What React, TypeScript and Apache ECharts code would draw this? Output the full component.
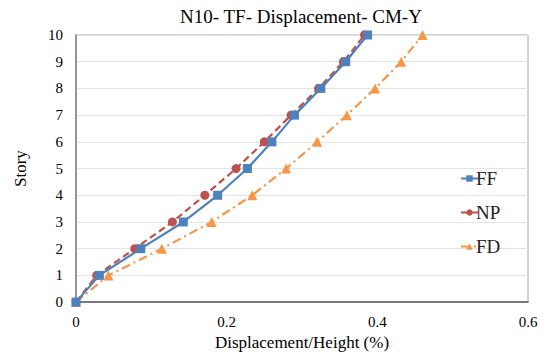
import React, { useEffect, useRef } from "react";
import * as echarts from "echarts";

// Story levels and drift ratios (%) per analysis case
const stories = [0, 1, 2, 3, 4, 5, 6, 7, 8, 9, 10];
const ffValues = [0, 0.031, 0.086, 0.1425, 0.188, 0.2275, 0.26, 0.29, 0.325, 0.358, 0.387];
const npValues = [0, 0.0275, 0.078, 0.128, 0.171, 0.2125, 0.25, 0.2855, 0.322, 0.355, 0.383];
const fdValues = [0, 0.043, 0.114, 0.18, 0.234, 0.279, 0.32, 0.3595, 0.397, 0.4316, 0.46];

const FONT = "'Liberation Serif', serif";

const pairs = (xs: number[]) => xs.map((x, i) => [x, stories[i]]);

export default function App() {
  const ref = useRef<HTMLDivElement>(null);

  useEffect(() => {
    if (!ref.current) return;
    const chart = echarts.init(ref.current, null, { renderer: "svg" });
    chart.setOption({
      animation: false,
      backgroundColor: "#ffffff",
      textStyle: { fontFamily: FONT },
      title: {
        text: "N10- TF- Displacement- CM-Y",
        left: 296,
        textAlign: "center",
        top: 2,
        textStyle: { fontFamily: FONT, fontSize: 19, fontWeight: "normal", color: "#000" },
      },
      grid: {
        left: 76,
        right: 17,
        top: 35,
        bottom: 52,
        show: true,
        borderColor: "#a6a6a6",
        borderWidth: 1,
      },
      legend: {
        orient: "vertical",
        left: 455,
        top: 164,
        itemWidth: 17,
        itemHeight: 8,
        itemGap: 15,
        textStyle: { fontFamily: FONT, fontSize: 19, color: "#222", padding: [0, 0, 0, -7] },
        data: ["FF", "NP", "FD"],
      },
      xAxis: {
        type: "value",
        min: 0,
        max: 0.6,
        interval: 0.2,
        name: "Displacement/Height (%)",
        nameLocation: "middle",
        nameGap: 27,
        nameTextStyle: { fontFamily: FONT, fontSize: 17, color: "#000" },
        axisLine: { lineStyle: { color: "#595959", width: 1.5 } },
        axisTick: { show: false },
        splitLine: { show: false },
        axisLabel: { fontFamily: FONT, fontSize: 15, color: "#000", margin: 12 },
      },
      yAxis: {
        type: "value",
        min: 0,
        max: 10,
        interval: 1,
        name: "Story",
        nameLocation: "middle",
        nameGap: 47,
        nameRotate: 90,
        nameTextStyle: { fontFamily: FONT, fontSize: 17, color: "#000" },
        axisLine: { show: true, lineStyle: { color: "#808080", width: 1.5 } },
        axisTick: { show: false },
        splitLine: { lineStyle: { color: "#e3e3e3", width: 1 } },
        axisLabel: { fontFamily: FONT, fontSize: 15, color: "#000", margin: 13 },
      },
      series: [
        {
          name: "FF",
          type: "line",
          data: pairs(ffValues),
          symbol: "rect",
          symbolSize: 9,
          itemStyle: { color: "#4f81bd" },
          lineStyle: { color: "#4f81bd", width: 2.2 },
          z: 3,
        },
        {
          name: "NP",
          type: "line",
          data: pairs(npValues),
          symbol: "circle",
          symbolSize: 9,
          itemStyle: { color: "#c0504d" },
          lineStyle: { color: "#c0504d", width: 2.2, type: [7, 4] },
          z: 2,
        },
        {
          name: "FD",
          type: "line",
          data: pairs(fdValues),
          symbol: "triangle",
          symbolSize: 10,
          itemStyle: { color: "#f79646" },
          lineStyle: { color: "#f79646", width: 2.2, type: [9, 4, 2, 4] },
          z: 1,
        },
      ],
    });
    return () => chart.dispose();
  }, []);

  return <div ref={ref} style={{ width: 545, height: 356, position: "absolute", left: 0, top: 0 }} />;
}
